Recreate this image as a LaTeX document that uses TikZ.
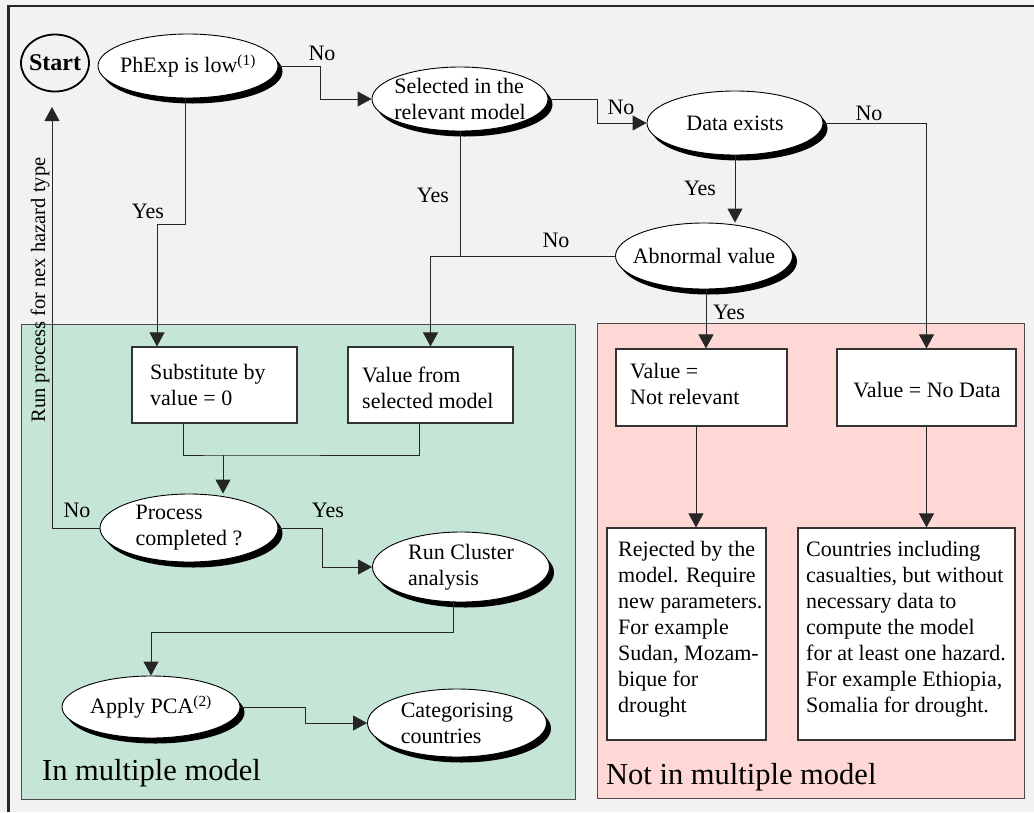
\documentclass[tikz,border=0pt]{standalone}
\usepackage{fontspec}
\setmainfont{Liberation Serif}
\usetikzlibrary{shapes.geometric,arrows.meta,shadows}
\definecolor{bggray}{HTML}{F2F2F2}
\definecolor{greenp}{HTML}{C5E5D6}
\definecolor{pinkp}{HTML}{FDD8D4}
\definecolor{lineg}{HTML}{333333}
\begin{document}
\begin{tikzpicture}[x=1pt,y=-1pt,
  every node/.style={font=\fontsize{22}{26}\selectfont},
  oval/.style={ellipse, draw=black, line width=0.9pt, fill=white, inner xsep=-14pt, inner ysep=-8pt, align=left,
    general shadow={fill=black, shadow xshift=4.5pt, shadow yshift=-5.5pt}},
  boxst/.style={rectangle, draw=lineg, line width=1.2pt, fill=white, inner sep=0pt},
  txt/.style={inner sep=0pt, align=left},
  conn/.style={draw=black!85, line width=0.9pt},
  arr/.style={conn, -{Triangle[length=14pt,width=15pt]}},
  lbl/.style={inner sep=0pt},
  panel/.style={draw=black!70, line width=0.8pt},
  big/.style={font=\fontsize{30.5}{36}\selectfont, inner sep=0pt, anchor=west}
]
\useasboundingbox (0,0) rectangle (1034,812);
\fill[bggray] (0,0) rectangle (1034,812);
\draw[line width=2.5pt, black!85] (8.5,812) -- (8.5,6) -- (1034,6);

% panels
\filldraw[panel, fill=greenp] (21,324) rectangle (575,799);
\filldraw[panel, fill=pinkp] (597,323) rectangle (1024,798);
\node[big] (lin) at (42,773) {In multiple model};
\node[big] (lout) at (606,777) {Not in multiple model};

% start and ovals
\node[ellipse, draw=black, line width=1.8pt, minimum width=68pt, minimum height=57pt, inner xsep=-8pt, inner ysep=-4pt,
  font={\fontsize{24}{28}\selectfont\bfseries}] (start) at (55,63) {Start};
\node[oval, minimum width=180pt, minimum height=64pt] (ph) at (188,66) {PhExp is low\textsuperscript{(1)}};
\node[oval, minimum width=176pt, minimum height=64pt] (sel) at (460,99) {Selected in the\\relevant model};
\node[oval, minimum width=176pt, minimum height=64pt] (de) at (735,123) {Data exists};
\node[oval, minimum width=177pt, minimum height=66pt] (ab) at (704,256) {Abnormal value};
\node[oval, minimum width=178pt, minimum height=68pt] (pc) at (189,528) {Process\\completed ?};
\node[oval, minimum width=177pt, minimum height=70pt] (rc) at (461,567) {Run Cluster\\analysis};
\node[oval, minimum width=178pt, minimum height=62pt] (ap) at (151,707) {Apply PCA\textsuperscript{(2)}};
\node[oval, minimum width=179pt, minimum height=68pt] (ca) at (457,723) {Categorising\\countries};

% boxes
\node[boxst, minimum width=165pt, minimum height=76pt] (sub) at (214.5,385) {};
\node[txt, anchor=west] (subt) at (150,385) {Substitute by\\value = 0};
\node[boxst, minimum width=165pt, minimum height=76pt] (vs) at (430.5,385) {};
\node[txt, anchor=west] (vst) at (362,388) {Value from\\selected model};
\node[boxst, minimum width=171pt, minimum height=77pt] (nr) at (701.5,387.5) {};
\node[txt, anchor=west] (nrt) at (630,384) {Value =\\Not relevant};
\node[boxst, minimum width=179pt, minimum height=77pt] (nd) at (926.5,387.5) {};
\node[txt] (ndt) at (927,390) {Value = No Data};
\node[boxst, minimum width=159pt, minimum height=212pt] (rj) at (686.5,634) {};
\node[txt, anchor=west] (rjt) at (618,629.5) {Rejected by the\\model. Require\\new parameters.\\For example\\Sudan, Mozam-\\bique for\\drought};
\node[boxst, minimum width=217pt, minimum height=212pt] (co) at (906.5,634) {};
\node[txt, anchor=west] (cot) at (806,629.5) {Countries including\\casualties, but without\\necessary data to\\compute the model\\for at least one hazard.\\For example Ethiopia,\\Somalia for drought.};

% helper coordinates
\coordinate (abs) at ([xshift=2pt]ab.south);
\coordinate (nrs) at ([xshift=-5.5pt]nr.south);
\coordinate (phs) at ([xshift=-3pt]ph.south);
\coordinate (j1) at (157,224);
\coordinate (subs) at ([xshift=-31.5pt]sub.south);
\coordinate (vss) at ([xshift=-11.5pt]vs.south);
\coordinate (j2) at (223,455);
\coordinate (stin) at (52,107);
\coordinate (rcs) at ([xshift=-8pt]rc.south);
\coordinate (j3) at (0,632);

% connectors
\draw[arr] (ph.east) -- ++(42,0) |- (sel.west);
\draw[arr] (sel.east) -- ++(49,0) |- (de.west);
\draw[arr] (de.east) -| (nd.north);
\draw[arr] (de.south) -- (de.south |- ab.north);
\draw[conn] (sel.south) -- (sel.south |- ab.west);
\draw[arr] (ab.west) -| (vs.north);
\draw[arr] (abs) -- (abs |- nr.north);
\draw[arr] (nrs) -- (nrs |- rj.north);
\draw[arr] (nd.south) -- (nd.south |- co.north);
\draw[arr] (phs) |- (j1) -- (j1 |- sub.north);
\draw[conn] (subs) |- (j2) -| (vss);
\draw[arr] (j2) -- (j2 |- pc.north);
\draw[arr] (pc.west) -| (stin);
\draw[arr] (pc.east) -- ++(44,0) |- (rc.west);
\draw[arr] (rcs) -- (rcs |- j3) -| (ap.north);
\draw[arr] (ap.east) -- ++(65,0) |- (ca.west);

% labels
\node[lbl] (l1) at (322,53) {No};
\node[lbl] (l2) at (621,107) {No};
\node[lbl] (l3) at (869,113) {No};
\node[lbl] (l4) at (148,211) {Yes};
\node[lbl] (l5) at (433,195) {Yes};
\node[lbl] (l6) at (556,240) {No};
\node[lbl] (l7) at (700,188) {Yes};
\node[lbl] (l8) at (729,312) {Yes};
\node[lbl] (l9) at (77,510) {No};
\node[lbl] (l10) at (328,510) {Yes};
\node[lbl, rotate=90, font=\fontsize{20.5}{24}\selectfont] (runp) at (40,290) {Run process for nex hazard type};
\end{tikzpicture}
\end{document}
